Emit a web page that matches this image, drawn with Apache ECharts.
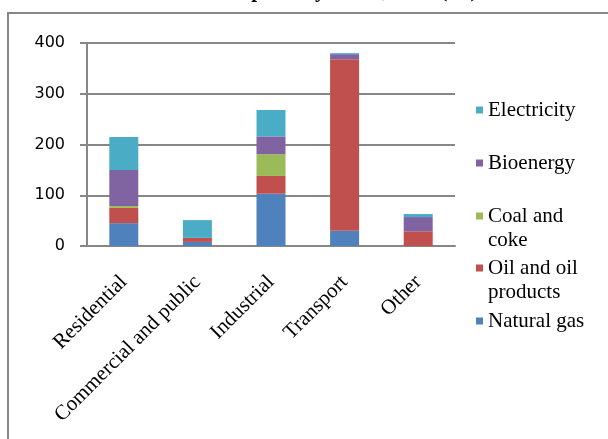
<!DOCTYPE html>
<html>
<head>
<meta charset="utf-8">
<script src="https://cdn.jsdelivr.net/npm/echarts@6/dist/echarts.min.js"></script>
<style>html,body{margin:0;padding:0;background:#fff;}#c{width:608px;height:439px;}</style>
</head>
<body>
<div id="c"></div>
<script>
var titleText = 'Final consumption by sector, 2010 (PJ)';
var categories = ['Residential', 'Commercial and public', 'Industrial', 'Transport', 'Other'];
var naturalGas = [45, 8, 103, 30, 0];
var oilProducts = [30, 8, 35, 338, 29];
var coalCoke = [4, 0, 43, 0, 0];
var bioenergy = [71, 0, 35, 10, 28];
var electricity = [65, 35, 52, 2, 6];
var yTicks = [0, 100, 200, 300, 400];

var serif = '"Liberation Serif", "Times New Roman", serif';
var colors = {gas: '#4F81BD', oil: '#C0504D', coal: '#9BBB59', bio: '#8064A2', elec: '#4BACC6'};
var names = {gas: 'Natural gas', oil: 'Oil and oil products', coal: 'Coal and coke', bio: 'Bioenergy', elec: 'Electricity'};
var labelText = {gas: 'Natural gas', oil: 'Oil and oil\nproducts', coal: 'Coal and\ncoke', bio: 'Bioenergy', elec: 'Electricity'};

function mkSeries(key, data) {
  return {name: names[key], type: 'bar', stack: 'a', data: data, barWidth: 29,
    itemStyle: {color: colors[key]}, emphasis: {disabled: true}};
}
function mkLegend(key, centerY, twoLine) {
  return {
    data: [names[key]], orient: 'vertical', left: 476,
    top: centerY - 12,
    padding: 0, itemWidth: 7, itemHeight: twoLine ? 48 : 7,
    icon: twoLine ? 'path://M0,0L0,48M0,8.5h7v7h-7z' : 'rect',
    selectedMode: false,
    formatter: function () { return labelText[key]; },
    textStyle: {fontFamily: serif, fontSize: 21, color: '#000', lineHeight: 24}
  };
}

var chart = echarts.init(document.getElementById('c'), null, {renderer: 'canvas'});
chart.setOption({
  animation: false,
  backgroundColor: '#fff',
  title: {text: titleText, left: 'center', top: -19, padding: 0,
    textStyle: {fontFamily: serif, fontWeight: 'bold', fontSize: 21, color: '#000'}},
  graphic: [{type: 'rect', shape: {x: 8, y: 13, width: 700, height: 500},
    style: {fill: 'none', stroke: '#878787', lineWidth: 2}, silent: true}],
  grid: {left: 87, right: 153, top: 43, bottom: 193},
  legend: [
    mkLegend('elec', 110, false),
    mkLegend('bio', 163, false),
    mkLegend('coal', 216, true),
    mkLegend('oil', 268, true),
    mkLegend('gas', 321, false)
  ],
  xAxis: {
    type: 'category', data: categories,
    axisLine: {lineStyle: {color: '#878787', width: 2}},
    axisTick: {length: 8, lineStyle: {color: '#878787', width: 2}},
    axisLabel: {rotate: 45, margin: 33, fontFamily: serif, fontSize: 21, color: '#000', interval: 0}
  },
  yAxis: {
    type: 'value', min: yTicks[0], max: yTicks[yTicks.length - 1], interval: 100,
    axisLine: {show: true, lineStyle: {color: '#878787', width: 2}},
    axisTick: {show: true, length: 7, lineStyle: {color: '#878787', width: 2}},
    splitLine: {lineStyle: {color: '#878787', width: 2}},
    axisLabel: {margin: 22, fontFamily: '"DejaVu Sans", Verdana, sans-serif', fontSize: 16, color: '#000'}
  },
  series: [
    mkSeries('gas', naturalGas),
    mkSeries('oil', oilProducts),
    mkSeries('coal', coalCoke),
    mkSeries('bio', bioenergy),
    mkSeries('elec', electricity)
  ]
});
</script>
</body>
</html>
